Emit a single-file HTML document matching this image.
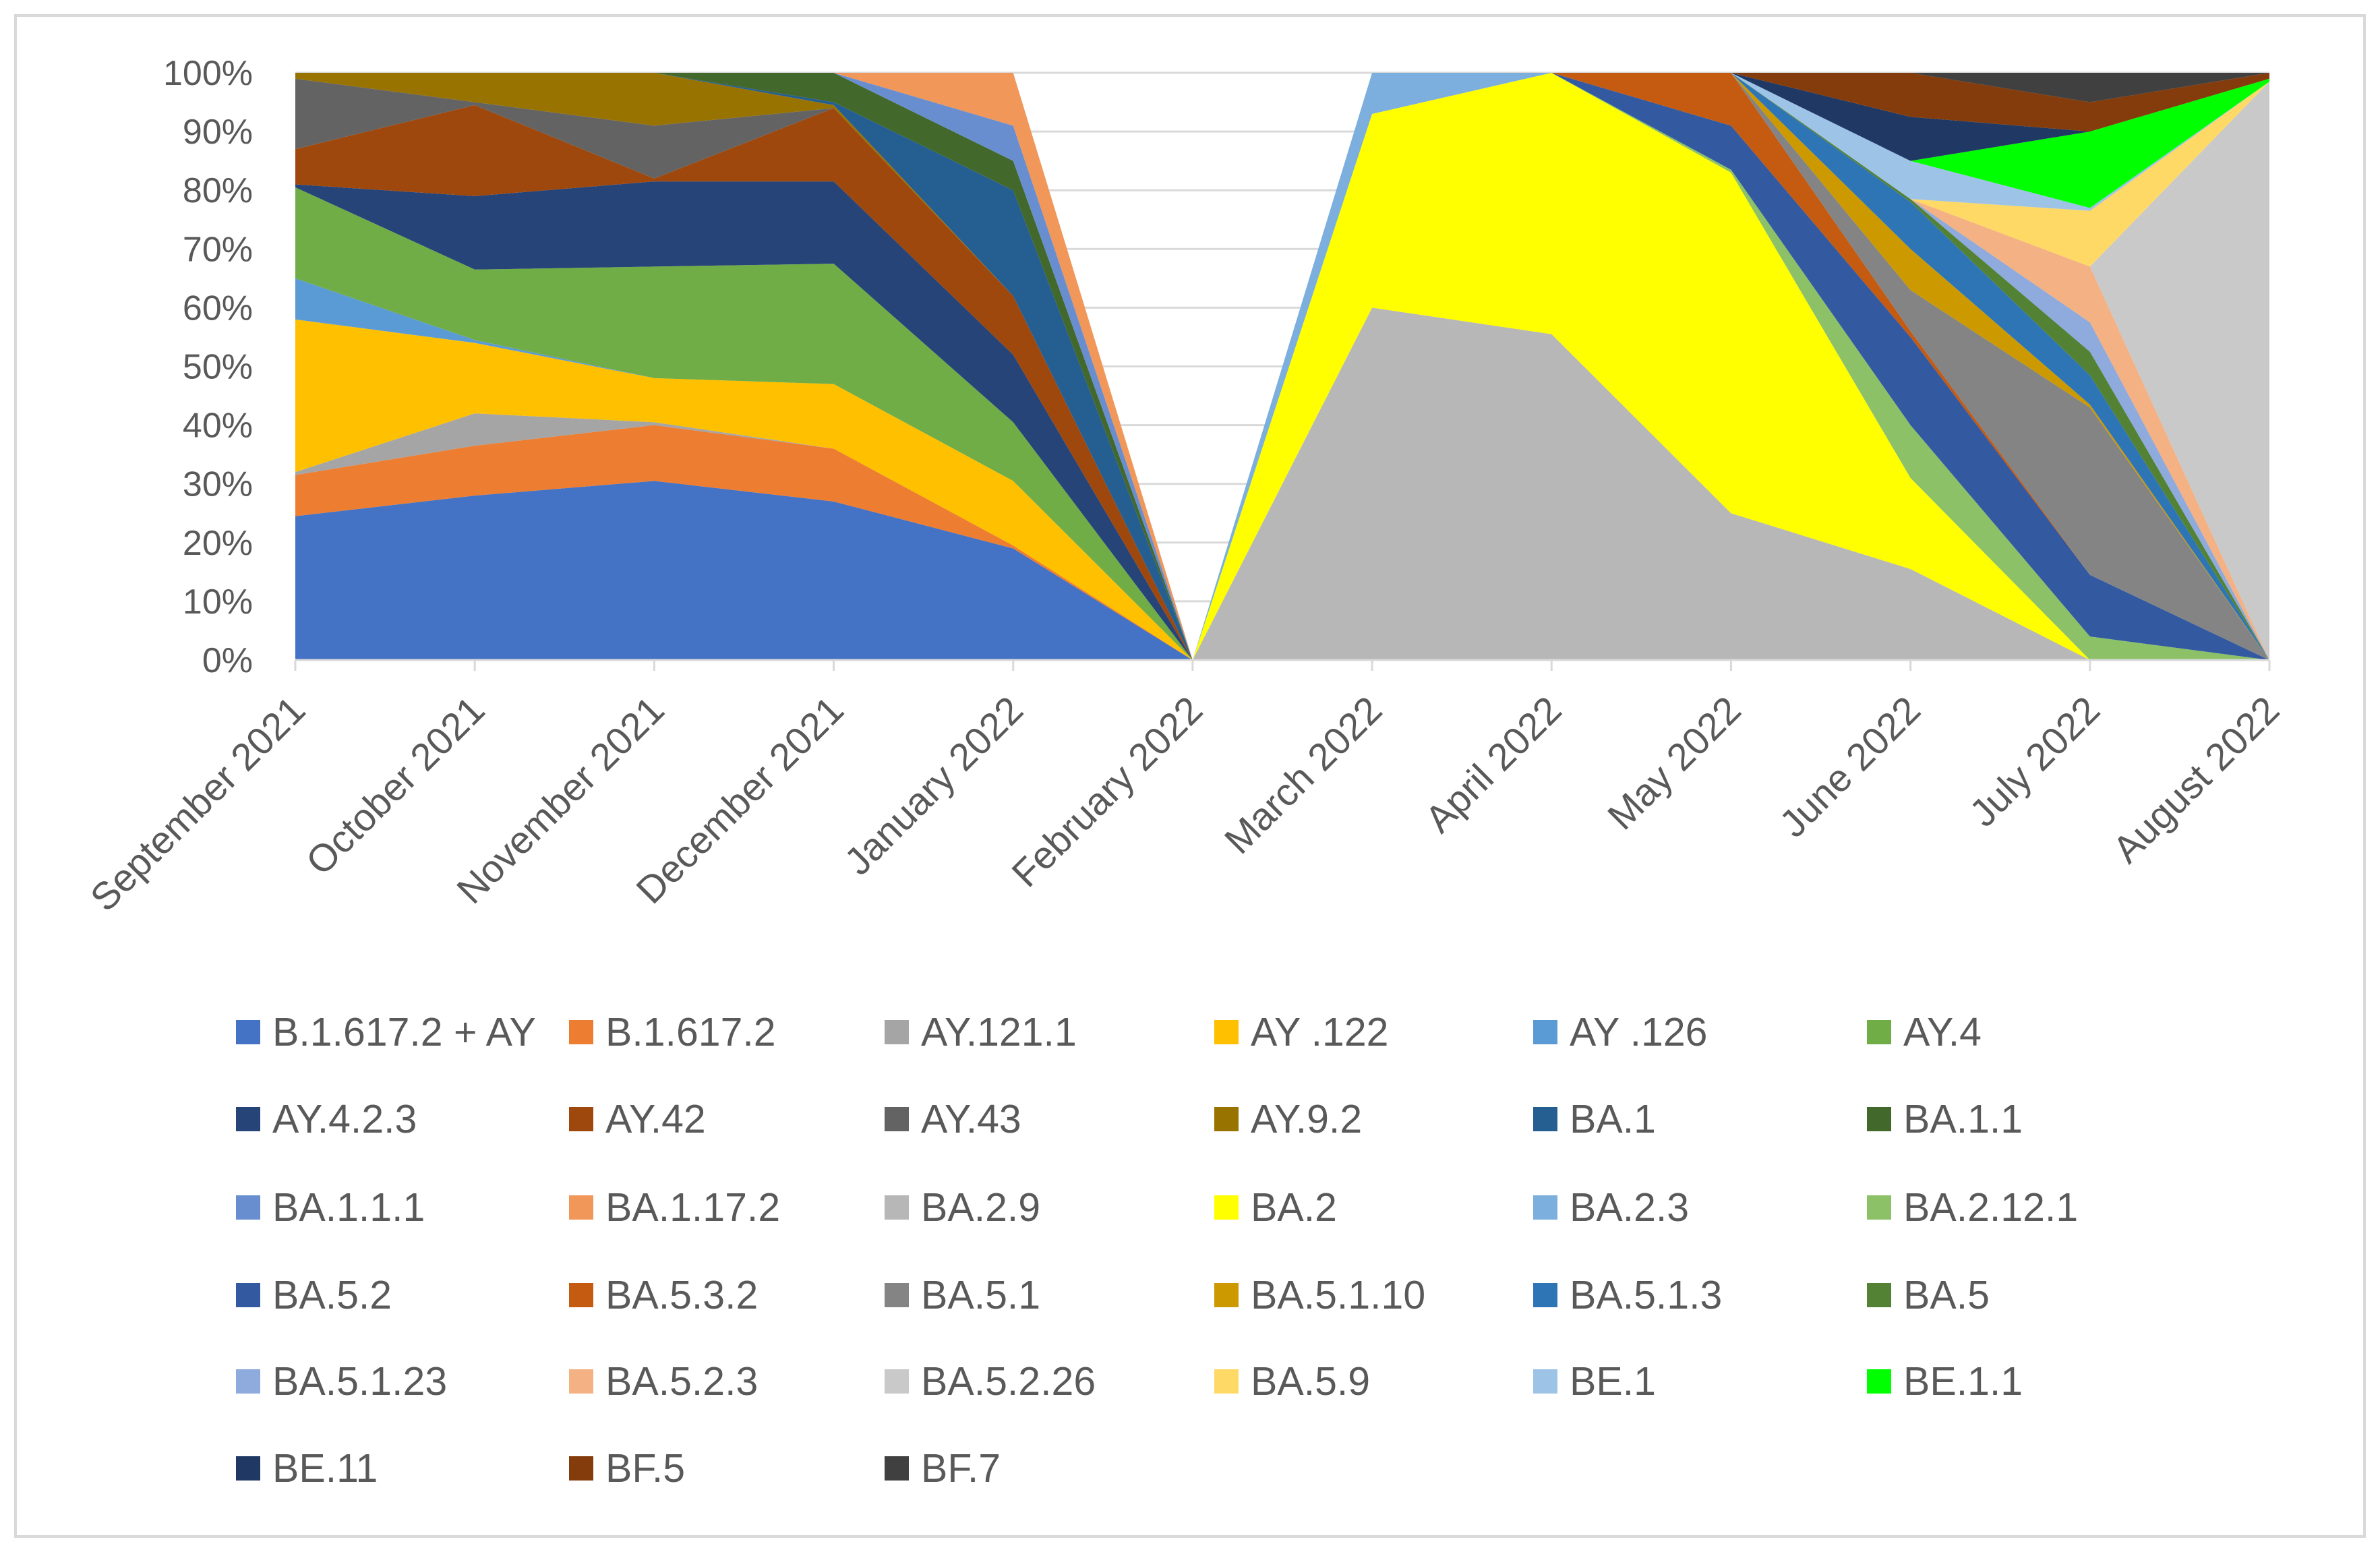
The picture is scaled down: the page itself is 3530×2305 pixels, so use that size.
<!DOCTYPE html>
<html><head><meta charset="utf-8"><style>
html,body{margin:0;padding:0;background:#fff}
svg{display:block}
text{font-family:"Liberation Sans",sans-serif;fill:#595959}
</style></head><body>
<svg id="chart" width="3530" height="2305" viewBox="0 0 3530 2305">
<rect x="23" y="23" width="3484" height="2256" fill="#fff" stroke="#d9d9d9" stroke-width="4"/>
<g id="grid"></g>
<g id="areas"></g>
<g id="yaxis"></g>
<g id="xaxis"></g>
<g id="legend"></g>
</svg>
<script>
const months = ["September 2021","October 2021","November 2021","December 2021","January 2022","February 2022","March 2022","April 2022","May 2022","June 2022","July 2022","August 2022"];
const yTicks = [0,10,20,30,40,50,60,70,80,90,100];
const seriesNames = ["B.1.617.2 + AY","B.1.617.2","AY.121.1","AY .122","AY .126","AY.4","AY.4.2.3","AY.42","AY.43","AY.9.2","BA.1","BA.1.1","BA.1.1.1","BA.1.17.2","BA.2.9","BA.2","BA.2.3","BA.2.12.1","BA.5.2","BA.5.3.2","BA.5.1","BA.5.1.10","BA.5.1.3","BA.5","BA.5.1.23","BA.5.2.3","BA.5.2.26","BA.5.9","BE.1","BE.1.1","BE.11","BF.5","BF.7"];
const seriesColors = ["#4472C4","#ED7D31","#A5A5A5","#FFC000","#5B9BD5","#70AD47","#264478","#9E480E","#636363","#997300","#255E91","#43682B","#698ED0","#F1975A","#B7B7B7","#FFFF00","#7CAFDD","#8CC168","#335AA1","#C55A11","#848484","#CC9A00","#2E75B6","#548235","#8FAADC","#F4B183","#C9C9C9","#FFD966","#9DC3E6","#00FF00","#203864","#843C0C","#404040"];
const values = [
[24.5,28,30.5,27,19,0,0,0,0,0,0,0],
[7,8.5,9.5,9,0.5,0,0,0,0,0,0,0],
[0.5,5.5,0.5,0,0,0,0,0,0,0,0,0],
[26,12,7.5,11,11,0,0,0,0,0,0,0],
[7,0.5,0,0,0,0,0,0,0,0,0,0],
[15.5,12,19,20.5,10,0,0,0,0,0,0,0],
[0.5,12.5,14.5,14,11.5,0,0,0,0,0,0,0],
[6,15.5,0.5,12.5,10,0,0,0,0,0,0,0],
[12,0.5,9,0,0,0,0,0,0,0,0,0],
[1,5,9,0.5,0,0,0,0,0,0,0,0],
[0,0,0,0.5,18,0,0,0,0,0,0,0],
[0,0,0,5,5,0,0,0,0,0,0,0],
[0,0,0,0,6,0,0,0,0,0,0,0],
[0,0,0,0,9,0,0,0,0,0,0,0],
[0,0,0,0,0,0,60,55.5,25,15.5,0,0],
[0,0,0,0,0,0,33,44.5,58,15.5,0,0],
[0,0,0,0,0,0,7,0,0,0,0,0],
[0,0,0,0,0,0,0,0,0.5,9,4,0],
[0,0,0,0,0,0,0,0,7.5,15,10.5,0],
[0,0,0,0,0,0,0,0,9,1,0,0],
[0,0,0,0,0,0,0,0,0,7,28.5,0],
[0,0,0,0,0,0,0,0,0,7,0.5,0],
[0,0,0,0,0,0,0,0,0,8,5,0],
[0,0,0,0,0,0,0,0,0,0.5,4,0],
[0,0,0,0,0,0,0,0,0,0,5,0],
[0,0,0,0,0,0,0,0,0,0,9.5,0],
[0,0,0,0,0,0,0,0,0,0,0,98.5],
[0,0,0,0,0,0,0,0,0,0,9.5,0],
[0,0,0,0,0,0,0,0,0,6.5,0.5,0],
[0,0,0,0,0,0,0,0,0,0,13,0.5],
[0,0,0,0,0,0,0,0,0,7.5,0,0],
[0,0,0,0,0,0,0,0,0,7.5,5,1],
[0,0,0,0,0,0,0,0,0,0,5,0]
];
const NS="http://www.w3.org/2000/svg";
const L=438,R=3366,T=108,B=979;
const xPos=i=>L+(R-L)*i/(months.length-1);
const yPos=v=>B-(B-T)*v/100;
function mk(tag,attrs,parent){const e=document.createElementNS(NS,tag);for(const k in attrs)e.setAttribute(k,attrs[k]);parent.appendChild(e);return e;}
const grid=document.getElementById('grid'),areas=document.getElementById('areas'),ya=document.getElementById('yaxis'),xa=document.getElementById('xaxis'),lg=document.getElementById('legend');
yTicks.forEach(t=>{
  const ln=mk('line',{x1:L,x2:R,y1:yPos(t),y2:yPos(t),stroke:'#d9d9d9','stroke-width':3},grid);
  
  
  const tx=mk('text',{x:375,y:yPos(t)+18,'text-anchor':'end','font-size':52},ya);
  tx.textContent=t+'%';
  
  
});
let base=months.map(()=>0);
values.forEach((vals,si)=>{
  const top=vals.map((v,i)=>base[i]+v);
  let pts=[];
  top.forEach((v,i)=>pts.push(xPos(i)+','+yPos(v)));
  for(let i=months.length-1;i>=0;i--)pts.push(xPos(i)+','+yPos(base[i]));
  const p=mk('polygon',{points:pts.join(' '),fill:seriesColors[si]},areas);
  
  
  base=top;
});
const ax=mk('line',{x1:L,x2:R,y1:B,y2:B,stroke:'#d9d9d9','stroke-width':3},xa);


months.forEach((m,i)=>{
  const tk=mk('line',{x1:xPos(i),x2:xPos(i),y1:B,y2:B+16,stroke:'#d9d9d9','stroke-width':3},xa);
  
  
  const ax0=xPos(i)+18, ay0=B+78;
  const tx=mk('text',{x:ax0,y:ay0,'text-anchor':'end','font-size':57,transform:`rotate(-45 ${ax0} ${ay0})`},xa);
  tx.textContent=m;
  
  
});
const colX=[350,844,1312,1801,2274,2769],rowY=[1530,1659,1790,1920,2048,2177];
seriesNames.forEach((n,i)=>{
  const c=i%6,r=Math.floor(i/6);
  const g=mk('g',{},lg);
  
  
  mk('rect',{x:colX[c],y:rowY[r]-17,width:36,height:36,fill:seriesColors[i]},g);
  const tx=mk('text',{x:colX[c]+54,y:rowY[r]+21,'font-size':59},g);
  tx.textContent=n;
});
</script>
</body></html>
